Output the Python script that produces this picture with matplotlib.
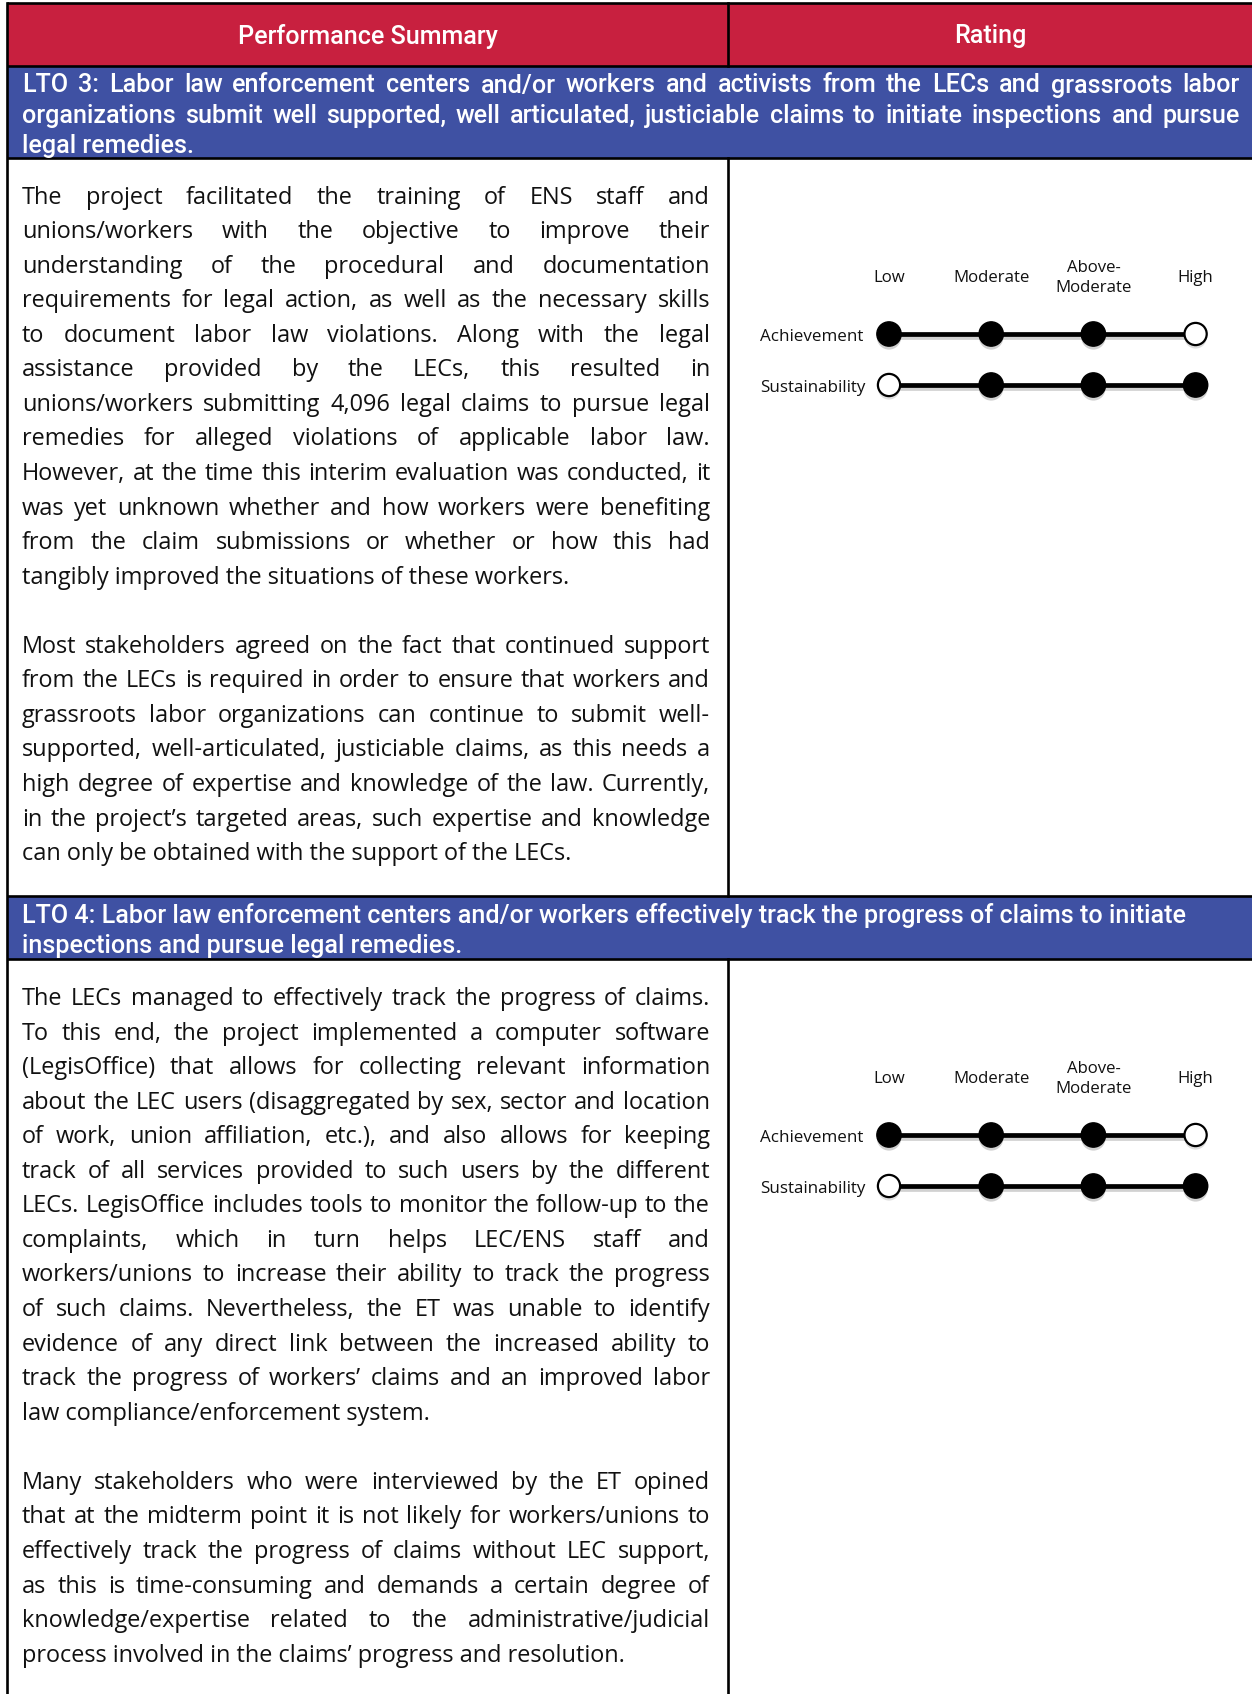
import matplotlib.pyplot as plt
import matplotlib.patheffects as pe
from matplotlib.patches import Rectangle

# ----------------------------------------------------
# Content
# ----------------------------------------------------

header_left = "Performance Summary"
header_right = "Rating"

rating_levels = ["Low", "Moderate", "Above-\nModerate", "High"]
rating_rows = ["Achievement", "Sustainability"]

# open circle position for each row, one entry per LTO block
achievement_open = ["High", "High"]
sustainability_open = ["Low", "Low"]

lto3_title = [
    "LTO 3: Labor law enforcement centers and/or workers and activists from the LECs and grassroots labor",
    "organizations submit well supported, well articulated, justiciable claims to initiate inspections and pursue",
    "legal remedies.",
]

lto3_par1 = [
    "The project facilitated the training of ENS staff and",
    "unions/workers with the objective to improve their",
    "understanding of the procedural and documentation",
    "requirements for legal action, as well as the necessary skills",
    "to document labor law violations. Along with the legal",
    "assistance provided by the LECs, this resulted in",
    "unions/workers submitting 4,096 legal claims to pursue legal",
    "remedies for alleged violations of applicable labor law.",
    "However, at the time this interim evaluation was conducted, it",
    "was yet unknown whether and how workers were benefiting",
    "from the claim submissions or whether or how this had",
    "tangibly improved the situations of these workers.",
]

lto3_par2 = [
    "Most stakeholders agreed on the fact that continued support",
    "from the LECs is required in order to ensure that workers and",
    "grassroots labor organizations can continue to submit well-",
    "supported, well-articulated, justiciable claims, as this needs a",
    "high degree of expertise and knowledge of the law. Currently,",
    "in the project\u2019s targeted areas, such expertise and knowledge",
    "can only be obtained with the support of the LECs.",
]

lto4_title = [
    "LTO 4: Labor law enforcement centers and/or workers effectively track the progress of claims to initiate",
    "inspections and pursue legal remedies.",
]

lto4_par1 = [
    "The LECs managed to effectively track the progress of claims.",
    "To this end, the project implemented a computer software",
    "(LegisOffice) that allows for collecting relevant information",
    "about the LEC users (disaggregated by sex, sector and location",
    "of work, union affiliation, etc.), and also allows for keeping",
    "track of all services provided to such users by the different",
    "LECs. LegisOffice includes tools to monitor the follow-up to the",
    "complaints, which in turn helps LEC/ENS staff and",
    "workers/unions to increase their ability to track the progress",
    "of such claims. Nevertheless, the ET was unable to identify",
    "evidence of any direct link between the increased ability to",
    "track the progress of workers\u2019 claims and an improved labor",
    "law compliance/enforcement system.",
]

lto4_par2 = [
    "Many stakeholders who were interviewed by the ET opined",
    "that at the midterm point it is not likely for workers/unions to",
    "effectively track the progress of claims without LEC support,",
    "as this is time-consuming and demands a certain degree of",
    "knowledge/expertise related to the administrative/judicial",
    "process involved in the claims\u2019 progress and resolution.",
]

# ----------------------------------------------------
# Layout (pixels)
# ----------------------------------------------------

W, H = 1252, 1694
RED = "#C8203F"
BLUE = "#3F51A3"
TEXT = "#111111"
BODY_FONT = "Open Sans"
HEAD_FONT = "Roboto"

LEFT, TOP, MID = 7, 3, 728
header_bottom = 66
band1 = (66, 158)
band2 = (896, 959)

fig = plt.figure(figsize=(W / 100, H / 100), dpi=100)
ax = fig.add_axes([0, 0, 1, 1])
ax.set_xlim(0, W)
ax.set_ylim(H, 0)
ax.axis("off")

fig.canvas.draw()
renderer = fig.canvas.get_renderer()


def measure(s, size, **kw):
    t = ax.text(0, 0, s, fontsize=size, **kw)
    w = t.get_window_extent(renderer).width
    t.remove()
    return w


def fit_size(s, target, **kw):
    return 10 * target / measure(s, 10, **kw)


def draw_line(s, x0, x1, y, size, justify, **kw):
    if not justify:
        ax.text(x0, y, s, fontsize=size, ha="left", va="center", **kw)
        return
    words = s.split()
    widths = [measure(w, size, **kw) for w in words]
    gap = (x1 - x0 - sum(widths)) / (len(words) - 1)
    x = x0
    for word, wd in zip(words, widths):
        ax.text(x, y, word, fontsize=size, ha="left", va="center", **kw)
        x += wd + gap


def draw_paragraph(lines, x0, x1, y0, step, size, **kw):
    for i, line in enumerate(lines):
        last = i == len(lines) - 1
        draw_line(line, x0, x1, y0 + i * step, size, not last, **kw)


# ----------------------------------------------------
# Table background and borders
# ----------------------------------------------------

ax.add_patch(Rectangle((LEFT, TOP), W - LEFT, header_bottom - TOP, color=RED, lw=0))
ax.add_patch(Rectangle((LEFT, band1[0]), W - LEFT, band1[1] - band1[0], color=BLUE, lw=0))
ax.add_patch(Rectangle((LEFT, band2[0]), W - LEFT, band2[1] - band2[0], color=BLUE, lw=0))

lw = 1.9
for y in [TOP, header_bottom, band1[1], band2[0], band2[1]]:
    ax.plot([LEFT, W], [y, y], color="black", lw=lw, solid_capstyle="butt")
ax.plot([LEFT, LEFT], [TOP, H], color="black", lw=lw)
for y0, y1 in [(TOP, header_bottom), (band1[1], band2[0]), (band2[1], H)]:
    ax.plot([MID, MID], [y0, y1], color="black", lw=lw)

# ----------------------------------------------------
# Header row
# ----------------------------------------------------

head_kw = dict(family=HEAD_FONT, fontweight="medium", color="white")
head_size = fit_size(header_left, 259, **head_kw)
ax.text((LEFT + MID) / 2, 36.5, header_left, fontsize=head_size, ha="center", va="center", **head_kw)
ax.text((MID + W) / 2, 36.5, header_right, fontsize=head_size, ha="center", va="center", **head_kw)

# ----------------------------------------------------
# LTO title bands
# ----------------------------------------------------

band_kw = dict(family=HEAD_FONT, fontweight="medium", color="white")
band_size = fit_size(lto4_title[0], 1161, **band_kw)
draw_paragraph(lto3_title, 22, 1240, 85.5, 30.2, band_size, **band_kw)
for i, line in enumerate(lto4_title):
    draw_line(line, 22, 1240, 916 + i * 30.2, band_size, False, **band_kw)

# ----------------------------------------------------
# Body text
# ----------------------------------------------------

body_kw = dict(family=BODY_FONT, color=TEXT)
X0, X1 = 22, 710
LINE_H = 34.56
body_size = fit_size("tangibly improved the situations of these workers.", 558, **body_kw)
justified = lto3_par1[:-1] + lto3_par2[:-1] + lto4_par1[:-1] + lto4_par2[:-1]
widest = max(measure(s, body_size, **body_kw) for s in justified)
if widest > (X1 - X0):
    body_size *= (X1 - X0) / widest * 0.995

draw_paragraph(lto3_par1, X0, X1, 197.5, LINE_H, body_size, **body_kw)
draw_paragraph(lto3_par2, X0, X1, 197.5 + 13 * LINE_H, LINE_H, body_size, **body_kw)
draw_paragraph(lto4_par1, X0, X1, 999, LINE_H, body_size, **body_kw)
draw_paragraph(lto4_par2, X0, X1, 999 + 14 * LINE_H, LINE_H, body_size, **body_kw)

# ----------------------------------------------------
# Rating panels
# ----------------------------------------------------

COL0, COL_STEP = 889, 102.2
ROW_STEP = 51
XL, XR = -1.35, 3.4
YT, YB = -1.75, 1.6

label_kw = dict(family=BODY_FONT, color=TEXT)
col_size = fit_size("Moderate", 76, **label_kw)
row_size = fit_size("Achievement", 103, **label_kw)
shadow = [pe.SimpleLineShadow(offset=(0, -2.5), shadow_color="black", alpha=0.18), pe.Normal()]

for k, row0 in enumerate([334, 1135]):
    left = COL0 + XL * COL_STEP
    right = COL0 + XR * COL_STEP
    top = row0 + YT * ROW_STEP
    bottom = row0 + YB * ROW_STEP
    rax = fig.add_axes([left / W, 1 - bottom / H, (right - left) / W, (bottom - top) / H])
    rax.set_xlim(XL, XR)
    rax.set_ylim(YB, YT)
    rax.axis("off")

    xs = list(range(len(rating_levels)))
    for j, label in enumerate(rating_levels):
        rax.text(xs[j], -1.1, label, fontsize=col_size, ha="center", va="center",
                 linespacing=1.35, **label_kw)

    opens = [achievement_open[k], sustainability_open[k]]
    for r, (row_label, open_level) in enumerate(zip(rating_rows, opens)):
        rax.text(-1.265, r + 0.05, row_label, fontsize=row_size, ha="left", va="center", **label_kw)
        rax.plot(xs, [r] * len(xs), color="black", lw=3.4, zorder=1, path_effects=shadow)
        oi = [lv.replace("\n", "") for lv in rating_levels].index(open_level)
        filled = [x for x in xs if x != oi]
        rax.scatter(filled, [r] * len(filled), s=17.5 ** 2, color="black", zorder=2,
                    path_effects=[pe.SimplePatchShadow(offset=(0, -2.5), alpha=0.18), pe.Normal()])
        rax.scatter([oi], [r], s=16 ** 2, facecolor="white", edgecolor="black",
                    linewidths=1.6, zorder=3,
                    path_effects=[pe.SimplePatchShadow(offset=(0, -2.5), alpha=0.18), pe.Normal()])

fig.savefig("out.png", dpi=100)
